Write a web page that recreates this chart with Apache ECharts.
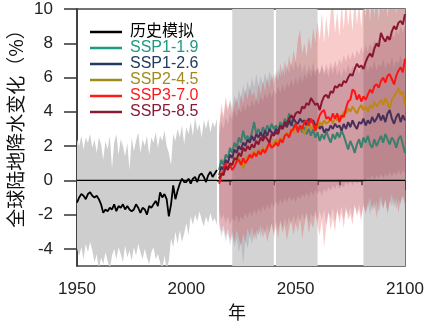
<!DOCTYPE html>
<html><head><meta charset="utf-8">
<script src="https://cdn.jsdelivr.net/npm/echarts@6/dist/echarts.min.js"></script>
<style>html,body{margin:0;padding:0;background:#fff}#c{width:429px;height:327px}</style>
</head><body><div id="c"></div>
<script>
const histYears = []; for (let y = 1950; y <= 2014; y++) histYears.push(y);
const sspYears = []; for (let y = 2015; y <= 2100; y++) sspYears.push(y);

const histMean = [
 -1.3,-1.0,-0.8,-0.9,-1.1,-0.8,-0.7,-0.9,-1.0,-0.9,
 -1.1,-1.4,-1.9,-1.7,-1.8,-1.6,-1.7,-1.4,-1.8,-1.5,
 -1.6,-1.4,-1.7,-1.5,-1.7,-1.8,-1.7,-1.4,-1.6,-1.9,
 -1.6,-1.7,-2.0,-1.5,-1.6,-1.4,-1.2,-1.5,-0.7,-1.0,
 -0.8,-1.1,-2.1,-1.4,-0.3,-1.1,-0.6,-0.2,0.1,-0.1,
 -0.1,0.1,-0.2,0.1,0.2,-0.1,0.3,0.4,0.2,-0.1,
 0.3,0.5,0.2,0.4,0.6];
const histUpper = [
 2.4,2.0,2.6,1.8,2.5,2.2,2.7,1.9,2.4,1.6,
 2.5,2.1,1.2,2.3,1.8,2.6,0.7,2.2,2.7,1.5,
 2.4,2.0,1.4,2.2,0.6,2.5,1.7,2.3,2.8,1.6,
 2.4,2.0,2.6,1.5,2.5,2.2,2.8,1.9,2.6,2.3,
 2.9,2.0,1.6,0.9,2.7,2.3,3.0,2.5,3.2,2.1,
 3.1,2.7,3.4,2.6,3.7,2.9,3.3,2.5,3.5,3.0,
 3.6,2.8,3.4,3.1,3.6];
const histLower = [
 -4.0,-4.4,-3.9,-4.6,-3.7,-4.2,-3.6,-4.1,-4.8,-4.3,
 -5.2,-4.5,-4.9,-4.2,-4.7,-5.2,-4.4,-4.0,-4.6,-3.9,
 -4.3,-4.8,-3.8,-4.5,-4.1,-4.7,-3.9,-4.4,-3.7,-4.2,
 -4.6,-4.0,-4.5,-4.9,-4.2,-3.9,-4.6,-4.3,-4.8,-5.2,
 -4.4,-5.2,-4.7,-3.4,-3.9,-3.0,-3.7,-2.9,-3.6,-3.1,
 -2.5,-3.2,-2.1,-2.6,-2.0,-2.4,-1.8,-2.3,-2.7,-2.1,
 -2.5,-1.9,-2.4,-2.2,-2.6];

const ssp119 = [
 0.6,1.2,0.9,1.5,1.3,1.9,1.6,2.2,1.9,2.5,
 2.2,2.9,2.4,2.6,2.3,2.8,3.4,2.7,3.0,2.6,
 3.1,2.8,3.2,2.9,3.3,3.0,3.2,2.9,3.4,3.1,
 3.6,3.3,3.9,3.4,3.1,3.3,2.9,3.2,2.8,3.1,
 2.7,3.0,2.6,3.0,2.5,2.8,2.3,2.7,2.4,2.9,
 2.5,2.2,2.7,2.4,2.8,2.5,2.9,2.6,2.2,1.8,
 2.3,2.0,1.6,2.1,2.4,1.9,2.5,2.2,2.6,2.1,
 1.9,2.4,2.0,2.3,2.6,2.2,2.7,2.4,2.1,2.5,
 2.3,1.9,2.4,2.6,2.1,1.6];
const ssp126 = [
 0.3,0.8,0.6,1.2,1.0,1.5,1.3,1.8,1.6,2.0,
 1.8,2.2,2.0,2.4,2.2,2.6,2.3,2.7,2.5,2.8,
 2.5,2.9,2.6,3.0,2.8,2.7,3.0,2.8,3.2,3.0,
 3.3,3.1,3.5,3.2,3.6,3.4,3.3,3.6,3.4,3.5,
 3.2,3.6,3.4,3.5,3.2,3.3,3.0,3.2,2.8,3.0,
 2.9,3.2,3.0,3.3,3.1,3.2,2.9,3.3,3.0,3.4,
 3.1,3.5,3.2,3.0,3.4,3.3,3.6,3.2,3.5,3.3,
 3.7,3.4,3.6,3.9,3.5,3.8,3.4,3.9,4.1,3.6,
 3.3,3.7,3.9,3.4,3.8,3.5];
const ssp245 = [
 0.1,0.5,0.4,0.8,0.6,1.0,0.9,1.2,1.0,1.3,
 1.1,0.7,1.2,1.4,1.3,1.5,1.7,1.4,1.8,1.6,
 1.9,1.7,2.0,2.1,1.9,2.2,2.4,2.1,2.5,2.3,
 2.6,2.8,2.6,3.0,2.8,3.1,2.9,3.2,3.0,2.7,
 3.1,3.3,3.0,3.2,2.9,3.1,3.4,3.2,3.5,3.3,
 3.4,3.6,3.3,3.7,3.5,3.8,3.6,4.0,3.9,4.2,
 4.0,4.3,4.1,3.9,4.2,4.4,4.1,4.3,4.0,4.4,
 4.2,4.6,4.3,4.5,4.7,4.4,4.8,4.5,4.2,4.7,
 4.9,5.1,5.4,5.0,5.2,4.4];
const ssp370 = [
 -0.2,0.3,0.5,1.0,0.7,0.9,0.6,0.8,1.1,1.2,
 0.9,1.3,1.0,1.2,1.5,1.3,1.6,1.4,1.7,1.5,
 1.8,1.6,1.9,2.2,1.9,2.0,2.2,2.0,2.4,2.2,
 2.6,2.7,2.5,2.9,3.0,3.3,2.8,3.2,3.0,3.4,
 3.5,3.2,3.6,3.3,2.9,3.4,3.8,4.0,4.1,3.6,
 3.7,3.5,3.9,3.6,3.9,3.4,3.8,3.7,4.2,4.6,
 4.7,5.3,5.2,4.7,5.0,4.6,4.9,4.7,5.0,5.3,
 5.1,5.5,5.6,5.4,5.8,6.0,5.7,6.1,6.2,5.9,
 5.6,6.1,6.4,6.6,6.3,7.1];
const ssp585 = [
 0.1,0.4,0.3,0.8,0.6,1.0,0.9,1.3,1.2,1.6,
 1.4,1.9,1.7,2.0,1.8,2.1,1.9,2.3,2.1,2.5,
 2.3,2.6,2.4,2.2,2.7,2.6,2.8,2.7,3.2,3.0,
 3.4,3.3,3.6,3.8,3.6,3.9,4.0,3.9,4.3,4.2,
 4.5,4.4,4.8,4.6,4.4,4.5,4.1,4.6,4.9,5.0,
 4.8,5.2,5.1,5.5,5.4,5.6,5.5,5.8,5.7,6.0,
 6.2,6.1,6.5,6.8,6.6,6.7,6.5,6.9,7.2,7.4,
 7.2,7.7,8.0,7.8,8.6,8.3,8.1,8.4,8.2,8.7,
 9.0,8.8,9.2,9.3,9.1,9.7];

// shaded ranges
const band370Upper = [
 3.0,4.5,3.8,4.9,4.2,4.6,3.9,4.4,4.8,4.1,
 5.0,4.5,5.3,4.7,5.5,4.9,5.2,4.6,5.6,5.0,
 5.8,5.2,6.0,5.4,6.2,5.6,6.4,5.8,6.8,6.1,
 7.0,6.3,7.3,6.6,7.6,6.9,8.2,8.8,7.4,8.0,
 7.2,8.4,7.6,8.9,8.0,9.3,8.2,9.8,8.0,9.6,
 8.3,9.8,10.5,8.6,9.9,8.4,10.3,8.8,10.6,9.0,
 10.2,8.7,10.8,9.1,10.4,8.9,10.9,9.4,11,9.2,
 11,9.6,11,9.3,11,9.8,11,9.5,11,10.0,
 11,9.7,11,10.2,11,10.6];
const band370Lower = [
 -2.4,-3.0,-2.6,-3.3,-2.8,-3.5,-3.0,-3.6,-2.9,-3.4,
 -3.8,-3.1,-3.6,-2.8,-3.3,-2.7,-3.5,-2.9,-3.2,-2.6,
 -3.4,-2.8,-3.6,-3.0,-2.5,-3.3,-2.7,-3.4,-2.4,-3.1,
 -2.6,-3.5,-2.8,-2.3,-3.2,-2.5,-3.0,-2.2,-3.4,-2.6,
 -2.0,-3.1,-2.4,-2.8,-1.9,-2.6,-3.2,-2.3,-3.9,-2.7,
 -1.8,-2.9,-2.2,-3.0,-1.6,-2.5,-1.9,-2.8,-1.5,-2.3,
 -2.0,-2.6,-1.4,-2.1,-1.7,-2.4,-1.3,-2.0,-1.5,-1.0,
 -1.8,-1.2,-2.2,-1.4,-0.9,-1.7,-1.1,-2.0,-1.3,-0.8,
 -1.6,-1.0,-1.9,-1.2,-0.9,-1.5];
const band585Upper = [
 2.6,3.4,3.0,3.7,3.3,3.9,3.5,4.1,3.7,4.2,
 3.9,4.4,4.0,4.5,4.2,4.7,4.3,4.8,4.4,4.9,
 4.6,5.1,4.7,5.2,4.8,5.3,5.0,5.5,5.1,5.6,
 5.2,5.7,5.4,5.9,5.5,6.0,5.6,6.1,5.7,6.2,
 5.9,6.4,6.0,6.5,6.1,6.6,6.2,6.7,6.3,6.8,
 6.4,6.9,6.5,7.0,6.6,7.1,6.8,7.3,6.9,7.4,
 7.0,7.5,7.1,7.6,7.3,7.8,7.4,7.9,7.5,8.0,
 7.7,8.2,7.8,8.3,7.9,8.4,8.1,8.6,8.2,8.7,
 8.3,8.8,8.5,9.0,8.6,9.1];
const band585Lower = [
 -1.8,-2.3,-2.0,-2.5,-2.1,-2.6,-2.2,-2.4,-2.0,-2.5,
 -2.1,-2.3,-1.9,-2.2,-1.8,-2.1,-1.7,-2.0,-1.6,-1.9,
 -1.5,-1.8,-1.4,-1.7,-1.3,-1.6,-1.2,-1.5,-1.1,-1.4,
 -1.0,-1.3,-0.9,-1.2,-1.0,-1.3,-0.9,-1.1,-0.8,-1.0,
 -0.7,-1.0,-0.6,-0.9,-0.5,-0.8,-0.6,-0.9,-0.5,-0.7,
 -0.4,-0.6,-0.3,-0.5,-0.2,-0.5,-0.3,-0.4,-0.1,-0.3,
 0.0,-0.3,0.0,-0.2,0.1,-0.2,0.1,-0.1,0.2,0.0,
 0.3,0.0,0.3,0.1,0.4,0.1,0.4,0.2,0.5,0.2,
 0.5,0.3,0.6,0.3,0.6,0.4];
const band126Upper = [
 3.2,4.0,3.6,4.5,4.0,4.8,4.2,5.0,4.5,5.3,
 4.8,5.6,5.0,5.8,5.2,6.0,5.4,6.2,5.5,6.1,
 5.6,6.3,5.7,6.4,5.8,6.2,5.9,6.5,6.0,6.6,
 6.1,6.8,6.2,6.9,6.4,7.0,6.5,6.9,6.3,6.8,
 6.2,6.7,6.4,6.9,6.3,6.6,6.2,6.8,6.1,6.5,
 6.0,6.6,6.2,6.7,6.1,6.5,6.0,6.6,6.2,6.8,
 6.3,6.7,6.1,6.6,6.2,6.8,6.4,6.9,6.3,6.7,
 6.5,7.0,6.4,6.8,6.6,7.1,6.5,6.9,6.7,7.2,
 6.6,7.0,6.8,7.3,6.7,7.0];
const band126Lower = [
 -2.6,-3.3,-2.9,-3.6,-3.1,-3.8,-3.2,-3.9,-3.4,-4.2,
 -3.6,-4.9,-3.5,-4.0,-3.2,-3.7,-3.0,-3.5,-2.8,-3.3,
 -2.7,-3.2,-2.6,-3.1,-2.5,-3.0,-2.4,-2.9,-2.3,-2.8,
 -2.2,-2.7,-2.1,-2.6,-2.0,-2.5,-2.0,-2.4,-1.9,-2.3,
 -1.8,-2.5,-1.9,-2.2,-1.7,-2.4,-1.8,-2.3,-1.7,-2.6,
 -1.9,-2.2,-1.6,-2.4,-1.8,-2.1,-1.5,-2.3,-1.7,-2.0,
 -1.6,-2.2,-1.5,-1.9,-1.4,-2.1,-1.5,-1.8,-1.3,-2.0,
 -1.4,-1.7,-1.2,-1.9,-1.3,-1.6,-1.1,-1.8,-1.2,-1.5,
 -1.0,-1.7,-1.1,-1.4,-0.9,-1.3];

const periods = [[2021, 2040], [2041, 2060], [2081, 2100]];
const yTicks = [-4, -2, 0, 2, 4, 6, 8, 10];

const FONT = '"Liberation Sans", Arial, "Noto Sans CJK SC", sans-serif';
const CJK = '"Noto Sans CJK SC", "Liberation Sans", sans-serif';

function clipOf(params) {
  const cs = params.coordSys;
  return {type: 'rect', shape: {x: cs.x, y: cs.y, width: cs.width, height: cs.height}};
}
function bandSeries(name, xs, lo, hi, fill, z) {
  return {
    type: 'custom', name: name, silent: true, z: z,
    data: xs.map((x, i) => [x, lo[i], hi[i]]),
    encode: {x: 0, y: [1, 2]},
    renderItem: function (params, api) {
      if (params.dataIndex !== 0) return null;
      const pts = [];
      for (let i = 0; i < xs.length; i++) pts.push(api.coord([xs[i], hi[i]]));
      for (let i = xs.length - 1; i >= 0; i--) pts.push(api.coord([xs[i], lo[i]]));
      return {type: 'polygon', shape: {points: pts}, style: {fill: fill}, clipPath: clipOf(params)};
    }
  };
}
function lineSeries(name, xs, ys, color, width, z) {
  return {
    type: 'line', name: name, z: z, showSymbol: false, symbol: 'none', animation: false,
    color: color, lineStyle: {color: color, width: width},
    data: xs.map((x, i) => [x, ys[i]])
  };
}

const series = [
  {
    type: 'custom', name: 'periods', silent: true, z: 1,
    data: periods,
    encode: {x: [0, 1]},
    renderItem: function (params, api) {
      const p0 = api.coord([api.value(0), 10]);
      const p1 = api.coord([api.value(1), -5]);
      return {type: 'rect', shape: {x: p0[0], y: p0[1], width: p1[0] - p0[0], height: p1[1] - p0[1]},
              style: {fill: '#d4d4d4'}};
    }
  },
  bandSeries('histBand', histYears, histLower, histUpper, '#cecece', 2),
  bandSeries('band126', sspYears, band126Lower, band126Upper, 'rgba(90,100,130,0.2)', 2),
  bandSeries('band370', sspYears, band370Lower, band370Upper, 'rgba(230,40,40,0.24)', 2),
  bandSeries('band585', sspYears, band585Lower, band585Upper, 'rgba(150,50,70,0.18)', 2),
  {
    type: 'line', name: 'zero', z: 3, showSymbol: false, symbol: 'none', silent: true,
    lineStyle: {color: '#000', width: 1.2}, color: '#000',
    data: [[1950, 0], [2100, 0]]
  },
  lineSeries('历史模拟', histYears, histMean, '#000000', 1.8, 4),
  lineSeries('SSP1-1.9', sspYears, ssp119, '#3b7f6d', 2, 4),
  lineSeries('SSP1-2.6', sspYears, ssp126, '#46305a', 2, 4),
  lineSeries('SSP2-4.5', sspYears, ssp245, '#c08714', 2, 4),
  lineSeries('SSP3-7.0', sspYears, ssp370, '#ff1414', 2, 4),
  lineSeries('SSP5-8.5', sspYears, ssp585, '#8a1631', 2, 4)
];

const legendItems = [
  ['历史模拟', '#000000'], ['SSP1-1.9', '#1e9a82'], ['SSP1-2.6', '#223a60'],
  ['SSP2-4.5', '#a08c1e'], ['SSP3-7.0', '#ff1a1a'], ['SSP5-8.5', '#8b1a35']
];

const chart = echarts.init(document.getElementById('c'), null, {renderer: 'canvas'});
chart.setOption({
  animation: false,
  backgroundColor: '#fff',
  grid: {left: 77, right: 24, top: 9, bottom: 61, show: true, borderColor: '#444', borderWidth: 1.5, backgroundColor: 'transparent'},
  xAxis: {
    type: 'value', min: 1950, max: 2100, interval: 50,
    axisLine: {show: true, lineStyle: {color: '#333', width: 1.5}},
    axisTick: {show: true, length: 10, lineStyle: {color: '#333', width: 1.5}},
    minorTick: {show: true, splitNumber: 5, length: 5, lineStyle: {color: '#333', width: 1.5}},
    splitLine: {show: false},
    axisLabel: {fontSize: 17, color: '#222', fontFamily: FONT, margin: 15, formatter: v => String(v)}
  },
  yAxis: {
    type: 'value', min: -5, max: 10,
    axisLine: {show: true, lineStyle: {color: '#333', width: 1.5}},
    axisTick: {show: true, length: 13, customValues: yTicks, lineStyle: {color: '#333', width: 1.5}},
    splitLine: {show: false},
    axisLabel: {fontSize: 17, color: '#222', fontFamily: FONT, margin: 24, customValues: yTicks, formatter: v => String(v)}
  },
  legend: {
    orient: 'vertical', left: 85, top: 19, itemWidth: 32, itemHeight: 2.5, itemGap: 0,
    icon: 'rect', selectedMode: false,
    textStyle: {fontSize: 16, fontFamily: FONT, lineHeight: 16, padding: [0, 0, 0, 3]},
    data: legendItems.map(d => ({name: d[0], itemStyle: {color: d[1]}, textStyle: {color: d[1]}}))
  },
  graphic: [
    {type: 'text', x: 16, y: 124, rotation: Math.PI / 2,
     style: {text: '全球陆地降水变化（%）', fontSize: 19, fontFamily: CJK, fill: '#111', align: 'center', verticalAlign: 'middle'}},
    {type: 'text', x: 237, y: 312,
     style: {text: '年', fontSize: 18, fontFamily: CJK, fill: '#111', align: 'center', verticalAlign: 'middle'}}
  ],
  series: series
});
</script></body></html>
